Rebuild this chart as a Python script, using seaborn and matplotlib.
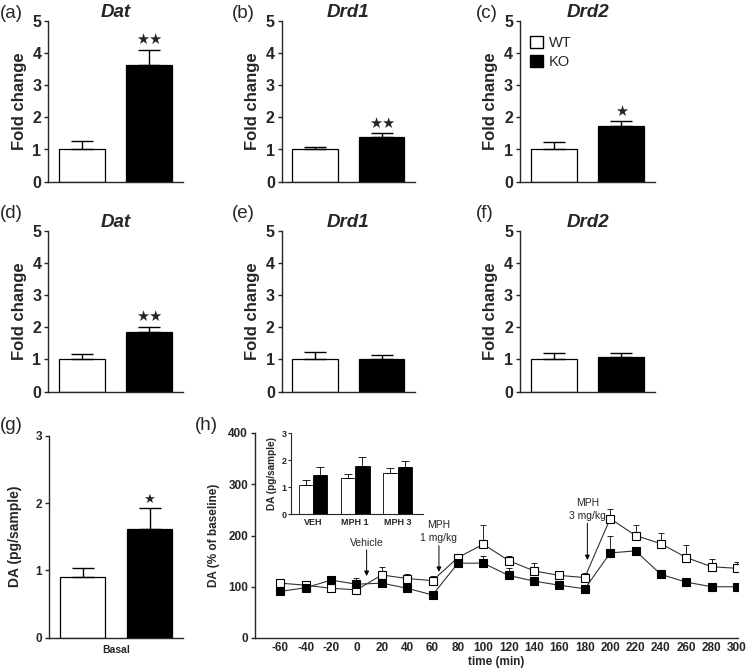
import numpy as np
import pandas as pd
import matplotlib
matplotlib.use("Agg")
import matplotlib.pyplot as plt
from matplotlib.patches import Patch
import seaborn as sns

# ---- data ----
genotypes = ['WT', 'KO']
genes = ['Dat', 'Drd1', 'Drd2']

# row 1 (a-c)
row1_wt = [1.0, 1.0, 1.0]
row1_wt_sem = [0.27, 0.07, 0.22]
row1_ko = [3.62, 1.40, 1.72]
row1_ko_sem = [0.47, 0.10, 0.15]
row1_stars = ['★★', '★★', '★']

# row 2 (d-f)
row2_wt = [1.0, 1.0, 1.0]
row2_wt_sem = [0.16, 0.22, 0.19]
row2_ko = [1.85, 1.0, 1.07]
row2_ko_sem = [0.17, 0.15, 0.12]
row2_stars = ['★★', '', '']

# (g) basal DA
basal_wt, basal_wt_sem = 0.90, 0.13
basal_ko, basal_ko_sem = 1.62, 0.31

# (h) inset
inset_groups = ['VEH', 'MPH 1', 'MPH 3']
inset_wt = [1.07, 1.33, 1.52]
inset_wt_sem = [0.20, 0.15, 0.18]
inset_ko = [1.46, 1.78, 1.76]
inset_ko_sem = [0.31, 0.34, 0.22]

# (h) time course
time_min = [-60, -40, -20, 0, 20, 40, 60, 80, 100, 120, 140, 160, 180, 200, 220, 240, 260, 280, 300]
wt_da = [107, 103, 97, 94, 123, 116, 112, 157, 183, 151, 131, 122, 118, 233, 200, 184, 157, 139, 136]
wt_da_sem = [3, 4, 3, 3, 16, 8, 9, 5, 37, 9, 16, 9, 8, 18, 21, 20, 24, 15, 12]
ko_da = [91, 98, 113, 105, 107, 97, 84, 146, 146, 122, 111, 103, 96, 166, 170, 124, 109, 100, 100]
ko_da_sem = [2, 3, 5, 13, 3, 3, 2, 4, 14, 14, 6, 3, 3, 33, 5, 5, 5, 3, 7]

colors = {'WT': 'white', 'KO': 'black'}

sns.set_theme(style="ticks")
plt.rcParams['font.family'] = ['Liberation Sans', 'DejaVu Sans']
plt.rcParams['axes.linewidth'] = 1.0

fig = plt.figure(figsize=(7.48, 6.72), dpi=100)
W, H = 748.0, 672.0


def px_axes(x0, x1, ytop, ybot):
    return fig.add_axes([x0 / W, 1 - ybot / H, (x1 - x0) / W, (ybot - ytop) / H])


def fold_panel(ax, title, wt, wt_sem, ko, ko_sem, star):
    df = pd.DataFrame({'genotype': genotypes, 'value': [wt, ko]})
    sns.barplot(data=df, x='genotype', y='value', hue='genotype', palette=colors,
                edgecolor='black', linewidth=0.9, width=0.68, errorbar=None,
                legend=False, ax=ax)
    ax.errorbar([0, 1], [wt, ko], yerr=[[0, 0], [wt_sem, ko_sem]], fmt='none',
                ecolor='black', elinewidth=1, capsize=8, capthick=1)
    if star:
        ax.text(1, ko + ko_sem + 0.08, star, ha='center', va='bottom', fontsize=10.5,
                family='DejaVu Sans')
    ax.set_xlim(-0.5, 1.5)
    ax.set_ylim(0, 5)
    ax.set_yticks([0, 1, 2, 3, 4, 5])
    ax.set_xticks([])
    ax.set_xlabel('')
    ax.set_ylabel('Fold change', fontsize=12, fontweight='bold', labelpad=4)
    ax.set_title(title, fontsize=13.5, fontweight='bold', style='italic', pad=3)
    ax.tick_params(axis='y', direction='out', length=3, width=1, pad=2, labelsize=11.5)
    for lab in ax.get_yticklabels():
        lab.set_fontweight('bold')
    sns.despine(ax=ax)


xcols = [(48.3, 183), (281.7, 415), (520, 655)]
row_y = [(20.7, 181.7), (230.7, 391.5)]
labels_rows = [['(a)', '(b)', '(c)'], ['(d)', '(e)', '(f)']]
label_x = [0, 232, 476]
label_y = [13, 213]

rows = [(row1_wt, row1_wt_sem, row1_ko, row1_ko_sem, row1_stars),
        (row2_wt, row2_wt_sem, row2_ko, row2_ko_sem, row2_stars)]

for r, (wt, wts, ko, kos, stars) in enumerate(rows):
    for c in range(3):
        ax = px_axes(xcols[c][0], xcols[c][1], row_y[r][0], row_y[r][1])
        fold_panel(ax, genes[c], wt[c], wts[c], ko[c], kos[c], stars[c])
        fig.text(label_x[c] / W, 1 - label_y[r] / H, labels_rows[r][c],
                 fontsize=13.5, va='center', ha='left')
        if r == 0 and c == 2:
            handles = [Patch(facecolor='white', edgecolor='black', label='WT'),
                       Patch(facecolor='black', edgecolor='black', label='KO')]
            ax.legend(handles=handles, loc='upper left', frameon=False, fontsize=10.5,
                      handlelength=0.9, handleheight=0.9, handletextpad=0.4,
                      labelspacing=0.35, borderaxespad=0.3, bbox_to_anchor=(0.0, 0.97))

# ---- (g) basal DA ----
axg = px_axes(49.3, 183, 435.7, 637.7)
dfg = pd.DataFrame({'genotype': genotypes, 'value': [basal_wt, basal_ko]})
sns.barplot(data=dfg, x='genotype', y='value', hue='genotype', palette=colors,
            edgecolor='black', linewidth=0.9, width=0.68, errorbar=None,
            legend=False, ax=axg)
axg.errorbar([0, 1], [basal_wt, basal_ko], yerr=[[0, 0], [basal_wt_sem, basal_ko_sem]],
             fmt='none', ecolor='black', elinewidth=1, capsize=8, capthick=1)
axg.text(1, basal_ko + basal_ko_sem + 0.03, '★', ha='center', va='bottom', fontsize=9.5,
         family='DejaVu Sans')
axg.set_xlim(-0.5, 1.5)
axg.set_ylim(0, 3)
axg.set_yticks([0, 1, 2, 3])
axg.set_xticks([0.5])
axg.set_xticklabels(['Basal'], fontsize=7.5, fontweight='bold')
axg.tick_params(axis='x', length=0, pad=5)
axg.tick_params(axis='y', direction='out', length=3, width=1, pad=2, labelsize=8.5)
for lab in axg.get_yticklabels():
    lab.set_fontweight('bold')
axg.set_xlabel('')
axg.set_ylabel('DA (pg/sample)', fontsize=10, fontweight='bold', labelpad=10)
sns.despine(ax=axg)
fig.text(0 / W, 1 - 425 / H, '(g)', fontsize=13.5, va='center', ha='left')

# ---- (h) time course ----
axh = px_axes(255, 738.3, 433, 638)
dfh = pd.DataFrame({
    'time': time_min * 2,
    'value': wt_da + ko_da,
    'sem': wt_da_sem + ko_da_sem,
    'genotype': ['WT'] * len(time_min) + ['KO'] * len(time_min),
})
for g in genotypes:
    sub = dfh[dfh['genotype'] == g]
    axh.errorbar(sub['time'], sub['value'], yerr=[np.zeros(len(sub)), sub['sem']],
                 fmt='none', ecolor='black', elinewidth=0.6, capsize=2, capthick=0.6,
                 zorder=1)
    sns.lineplot(data=sub, x='time', y='value', ax=axh, color='#333333', linewidth=0.8,
                 marker='s', markersize=5.2, markerfacecolor=colors[g],
                 markeredgecolor='black', markeredgewidth=0.8, zorder=3)

axh.set_xlim(-80, 301)
axh.set_ylim(0, 400)
axh.set_xticks(time_min)
axh.set_xticklabels([str(t) for t in time_min], fontsize=8.5, fontweight='bold')
axh.set_yticks([0, 100, 200, 300, 400])
axh.tick_params(axis='x', length=0, pad=3)
axh.tick_params(axis='y', direction='out', length=3, width=1, pad=2, labelsize=8.5)
for lab in axh.get_yticklabels():
    lab.set_fontweight('bold')
axh.set_xlabel('time (min)', fontsize=8.5, fontweight='bold', labelpad=1)
axh.set_ylabel('DA (% of baseline)', fontsize=8.5, fontweight='bold', labelpad=6)
sns.despine(ax=axh)
fig.text(195 / W, 1 - 425 / H, '(h)', fontsize=13.5, va='center', ha='left')

arrow_kw = dict(arrowstyle='-|>', color='black', lw=0.7, mutation_scale=7,
                shrinkA=0, shrinkB=0)
axh.annotate('', xy=(8, 121), xytext=(8, 172), arrowprops=arrow_kw)
axh.text(8, 185, 'Vehicle', ha='center', va='center', fontsize=7.5)
axh.annotate('', xy=(65, 129), xytext=(65, 180), arrowprops=arrow_kw)
axh.text(65, 220, 'MPH', ha='center', va='center', fontsize=7.5)
axh.text(65, 195, '1 mg/kg', ha='center', va='center', fontsize=7.5)
axh.annotate('', xy=(182, 152), xytext=(182, 224), arrowprops=arrow_kw)
axh.text(182, 263, 'MPH', ha='center', va='center', fontsize=7.5)
axh.text(182, 238, '3 mg/kg', ha='center', va='center', fontsize=7.5)

# ---- (h) inset ----
axi = px_axes(290.7, 423.3, 433.3, 514.3)
dfi = pd.DataFrame({
    'group': inset_groups * 2,
    'value': inset_wt + inset_ko,
    'genotype': ['WT'] * 3 + ['KO'] * 3,
})
sns.barplot(data=dfi, x='group', y='value', hue='genotype', hue_order=genotypes,
            palette=colors, edgecolor='black', linewidth=0.6, width=0.68,
            errorbar=None, legend=False, ax=axi)
gpos = np.arange(len(inset_groups))
axi.errorbar(gpos - 0.17, inset_wt, yerr=[np.zeros(3), inset_wt_sem], fmt='none',
             ecolor='black', elinewidth=0.6, capsize=3, capthick=0.6)
axi.errorbar(gpos + 0.17, inset_ko, yerr=[np.zeros(3), inset_ko_sem], fmt='none',
             ecolor='black', elinewidth=0.6, capsize=3, capthick=0.6)
axi.set_xlim(-0.53, 2.61)
axi.set_ylim(0, 3)
axi.set_yticks([0, 1, 2, 3])
axi.set_xticks(gpos)
axi.set_xticklabels(inset_groups, fontsize=6.5, fontweight='bold')
axi.tick_params(axis='x', length=0, pad=3)
axi.tick_params(axis='y', direction='out', length=2, width=0.8, pad=1, labelsize=6.5)
for lab in axi.get_yticklabels():
    lab.set_fontweight('bold')
axi.set_xlabel('')
axi.set_ylabel('DA (pg/sample)', fontsize=7.2, fontweight='bold', labelpad=3)
for s in ['left', 'bottom']:
    axi.spines[s].set_linewidth(0.8)
sns.despine(ax=axi)

fig.savefig('out.png', dpi=100)
